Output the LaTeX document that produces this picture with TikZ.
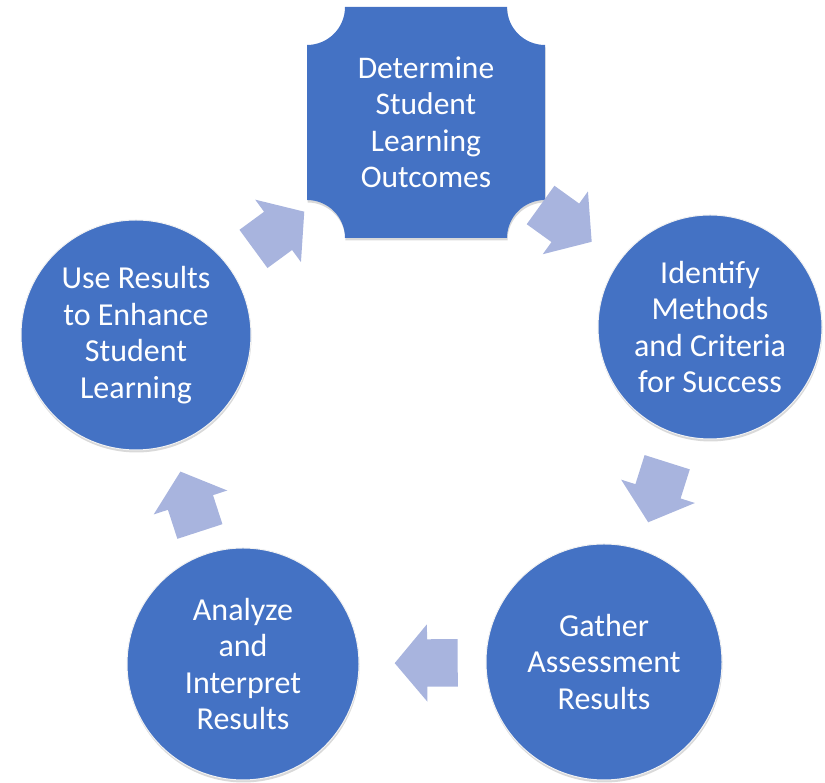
\documentclass[tikz,border=0pt]{standalone}
\usepackage{fontspec}
\setmainfont{Carlito}
\usetikzlibrary{calc,shapes.arrows,shadows}

\definecolor{stageblue}{RGB}{68,114,196}
\definecolor{arrowfill}{RGB}{168,180,222}

\tikzset{
	stage/.style={circle, fill=stageblue, draw=white!90!gray, line width=1pt,
		drop shadow={opacity=0.3, shadow xshift=0.5pt, shadow yshift=-2.5pt},
		text=white, align=center, inner sep=0pt,
		font=\fontsize{32}{36.5}\selectfont},
	cyclearrow/.style={single arrow, fill=arrowfill, draw=none, inner sep=0pt,
		text width=0pt, text height=23.5pt, text depth=23.5pt,
		minimum height=63pt, single arrow head extend=15pt,
		single arrow tip angle=100, pos=0.465, sloped, allow upside down},
}

\begin{document}
\begin{tikzpicture}[x=1pt,y=1pt]

		\useasboundingbox (0,0) rectangle (825,783);

		\def\r{38}
		\coordinate (P) at (307,545) ;
		\coordinate (Q) at (545,776) ;

		% top plaque
		\fill [stageblue, drop shadow={opacity=0.3, shadow xshift=0.5pt, shadow yshift=-2.5pt}]
			($(P)+(\r,0)$) arc [start angle=0, end angle=90, radius=\r]
			-- ($(P|-Q)+(0,-\r)$) arc [start angle=270, end angle=360, radius=\r]
			-- ($(Q)+(-\r,0)$) arc [start angle=180, end angle=270, radius=\r]
			-- ($(Q|-P)+(0,\r)$) arc [start angle=90, end angle=180, radius=\r]
			-- cycle;
		\node [text=white, align=center, font=\fontsize{31.5}{36.5}\selectfont] (T) at ($(P)!0.5!(Q)$)
			{Determine\\Student\\Learning\\Outcomes};

		\node [stage, minimum size=224pt] (R) at (710,456) {Identify\\Methods\\and Criteria\\for Success};
		\node [stage, minimum size=236pt] (BR) at (604,121) {Gather\\Assessment\\Results};
		\node [stage, minimum size=232pt] (BL) at (243,119) {Analyze\\and\\Interpret\\Results};
		\node [stage, minimum size=230pt] (L) at (136,448) {Use Results\\to Enhance\\Student\\Learning};

		\path (T.center) -- (R.center) node [cyclearrow] (a1) {};
		\path (R.center) -- (BR.center) node [cyclearrow] (a2) {};
		\path (BR.center) -- (BL.center) node [cyclearrow] (a3) {};
		\path (BL.center) -- (L.center) node [cyclearrow] (a4) {};
		\path (L.center) -- (T.center) node [cyclearrow] (a5) {};

\end{tikzpicture}
\end{document}
